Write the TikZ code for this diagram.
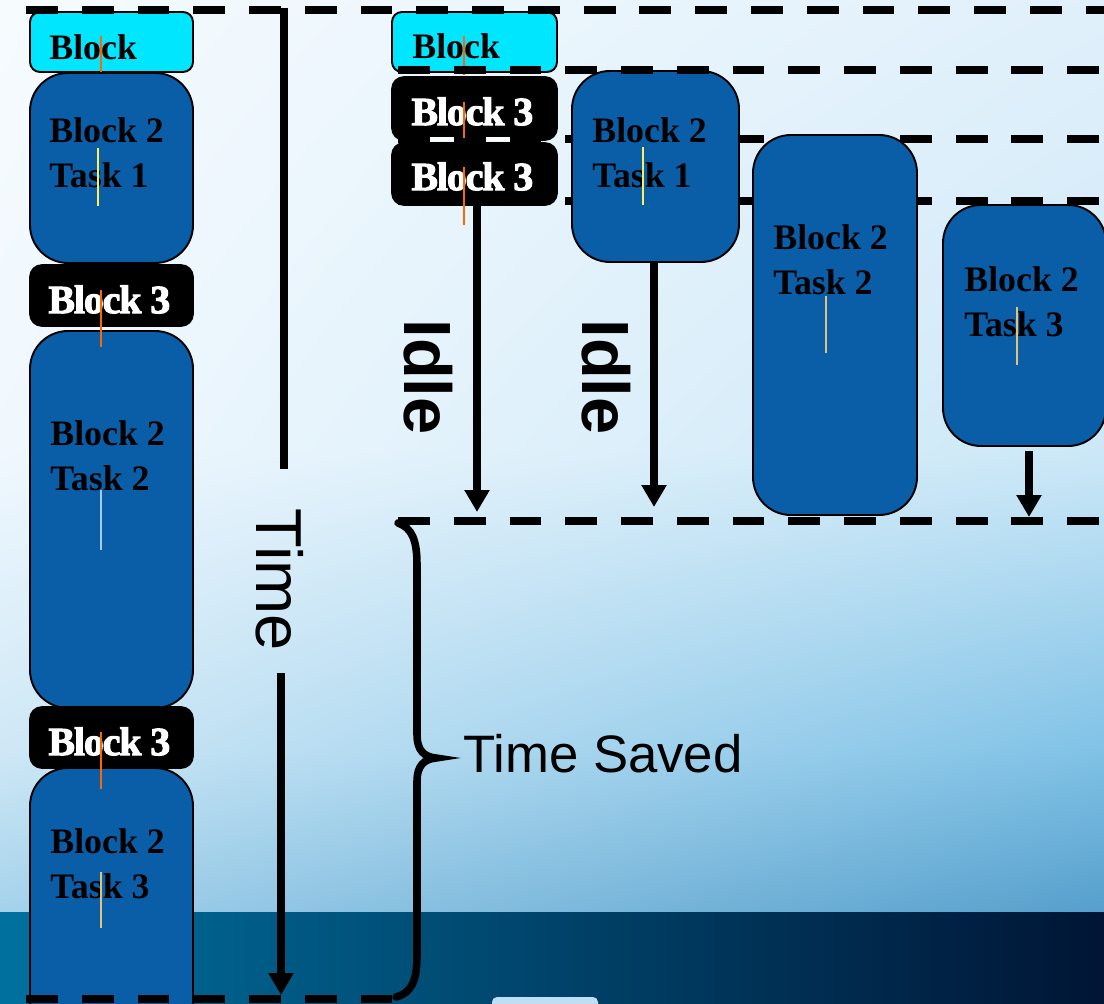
\documentclass[tikz,border=0pt]{standalone}
\usepackage{fontspec}
\setmainfont{Liberation Serif}
\newfontfamily\arialfont{Liberation Sans}
\newfontfamily\heavyfont{Liberation Serif Bold}[FakeBold=2.5, LetterSpace=-3]
\usetikzlibrary{arrows.meta,calc,shadings}
\definecolor{bgA}{HTML}{F6FBFE}
\definecolor{bgB}{HTML}{E0F0FB}
\definecolor{bgC}{HTML}{F0F8FE}
\definecolor{bgD}{HTML}{CCE8F7}
\definecolor{bgE}{HTML}{CFE8F6}
\definecolor{bgF}{HTML}{80C2E6}
\definecolor{bgG}{HTML}{A4D2EB}
\definecolor{bgH}{HTML}{559FCC}
\definecolor{bandA}{HTML}{00719F}
\definecolor{bandB}{HTML}{003A62}
\definecolor{bandC}{HTML}{001535}
\definecolor{smallbox}{HTML}{BFDDF5}
\definecolor{boxblue}{HTML}{0A5EA8}
\definecolor{boxcyan}{HTML}{00E6FF}
\definecolor{cursorA}{HTML}{FF6600}
\definecolor{cursorB}{HTML}{FFEE55}
\definecolor{cursorC}{HTML}{E0C478}
\definecolor{cursorD}{HTML}{A8CCF0}
\tikzset{
  boxsize/.style 2 args={minimum width=#1*0.02cm, minimum height=#2*0.02cm},
  bluebox/.style={draw=black, line width=1.1pt, fill=boxblue, rounded corners=0.76cm, inner sep=0pt},
  cyanbox/.style={draw=black, line width=1.1pt, fill=boxcyan, rounded corners=0.2cm, inner sep=0pt},
  blackbox/.style={draw=black, line width=1pt, fill=black, rounded corners=0.24cm, inner sep=0pt},
  btxt/.style={anchor=north west, inner sep=0pt, align=left, text=black,
    font=\fontsize{20.4}{25.5}\selectfont\bfseries},
  wtxt/.style={anchor=north west, inner sep=0pt, text=white,
    font=\heavyfont\fontsize{22.8}{26}\selectfont},
  dashline/.style={line width=4.5pt, dash pattern=on 18.14pt off 13.6pt},
  solidline/.style={line width=4.3pt},
  arrowline/.style={line width=4.5pt, -{Triangle[length=12.5pt, width=13.6pt]}},
  cursor/.style={line width=0.8pt},
  idletxt/.style={rotate=-90, inner sep=0pt, font=\arialfont\bfseries\fontsize{38}{40}\selectfont},
  timetxt/.style={rotate=-90, inner sep=0pt, font=\arialfont\fontsize{37}{40}\selectfont},
}
\begin{document}
\begin{tikzpicture}[x=0.02cm, y=-0.02cm]
\useasboundingbox (0,0) rectangle (1104,1003);
\clip (0,0) rectangle (1104,1003);
% background
\shade[upper left=bgA, upper right=bgB, lower left=bgC, lower right=bgD] (0,0) rectangle (1104,451);
\shade[upper left=bgC, upper right=bgD, lower left=bgE, lower right=bgF] (0,450) rectangle (1104,751);
\shade[upper left=bgE, upper right=bgF, lower left=bgG, lower right=bgH] (0,750) rectangle (1104,913);
\shade[left color=bandA, middle color=bandB, right color=bandC] (0,912) rectangle (1104,1003);
\fill[smallbox, rounded corners=0.1cm] (492,997) rectangle (598,1020);

% dashed lines behind boxes
\draw[dashline] (398,139) -- (1104,139);
\draw[dashline] (398,201) -- (1104,201);

% left column
\node[cyanbox, boxsize={163}{60}] (LB) at (111.5,42) {};
\node[bluebox, boxsize={163}{190}] (L1) at (111.5,168) {};
\node[blackbox, boxsize={163}{61}] (L3a) at (111.5,295.5) {};
\node[bluebox, boxsize={163}{377}] (L2) at (111.5,519.5) {};
\node[blackbox, boxsize={163}{61}] (L3b) at (111.5,737.5) {};
\node[bluebox, boxsize={163}{272}] (LT3) at (111.5,904) {};

\node[btxt] (LBt) at (49,34) {Block};
\node[btxt] (L1t) at (49,117) {Block 2\\Task 1};
\node[wtxt] (L3at) at (48,285) {Block 3};
\node[btxt] (L2t) at (50,420) {Block 2\\Task 2};
\node[wtxt] (L3bt) at (48,727) {Block 3};
\node[btxt] (LT3t) at (50,828) {Block 2\\Task 3};

% right column
\node[cyanbox, boxsize={165}{60}] (RB) at (474.5,42) {};
\node[blackbox, boxsize={165}{63}] (R3a) at (474.5,108.5) {};
\node[blackbox, boxsize={165}{62}] (R3b) at (474.5,174) {};
\node[bluebox, boxsize={167}{191}] (RT1) at (655.5,166.5) {};
\node[bluebox, boxsize={164}{380}] (RT2) at (835,325) {};
\node[bluebox, boxsize={163}{241}] (RT3) at (1024.5,325.5) {};

\node[btxt] (RBt) at (412,33) {Block};
\node[wtxt] (R3at) at (411,97) {Block 3};
\node[wtxt] (R3bt) at (411,162) {Block 3};
\node[btxt] (RT1t) at (592,117) {Block 2\\Task 1};
\node[btxt] (RT2t) at (773,224) {Block 2\\Task 2};
\node[btxt] (RT3t) at (964,266) {Block 2\\Task 3};

% thin cursor marks
\draw[cursor, cursorA] (101,36) -- (101,72);
\draw[cursor, cursorB] (98,148) -- (98,206);
\draw[cursor, cursorA] (101,290) -- (101,347);
\draw[cursor, cursorD] (101,490) -- (101,550);
\draw[cursor, cursorA] (101,732) -- (101,789);
\draw[cursor, cursorC] (101,872) -- (101,928);
\draw[cursor, cursorA] (464,36) -- (464,75);
\draw[cursor, cursorA] (464,102) -- (464,138);
\draw[cursor, cursorA] (464,167) -- (464,225);
\draw[cursor, cursorB] (643,147) -- (643,205);
\draw[cursor, cursorC] (826,296) -- (826,353);
\draw[cursor, cursorC] (1017,307) -- (1017,365);

% dashed lines in front
\draw[dashline] (26,10) -- (1104,10);
\draw[dashline] (398,70) -- (1104,70);
\draw[dashline] (398,521) -- (1104,521);
\draw[dashline] (26,999) -- (400,999);
\draw[line width=2.2pt, white, dash pattern=on 13.6pt off 18.14pt] (430,139) -- (510,139);

% time axis
\node[timetxt] (time) at (280,580) {Time};
\coordinate (ttop) at (284,8);
\coordinate (tmidA) at (284,469);
\coordinate (tmidB) at (281,673);
\coordinate (tbot) at (281,995);
\draw[solidline] (ttop) -- (tmidA);
\draw[arrowline] (tmidB) -- (tbot);

% idle arrows
\coordinate (i1e) at (477,512);
\coordinate (i2e) at (654,507);
\coordinate (a3e) at (1029,517);
\draw[arrowline] (R3b.south -| i1e) -- (i1e);
\draw[arrowline] (RT1.south -| i2e) -- (i2e);
\draw[arrowline] ($(RT3.south -| a3e)+(0,4)$) -- (a3e);
\node[idletxt] (idle1) at (428,377) {Idle};
\node[idletxt] (idle2) at (606,377) {Idle};

% brace
\draw[line width=4.3pt, line cap=round] (398,523) .. controls (412,528) and (417,540) .. (417,565)
  -- (417,735) .. controls (417,750) and (424,757) .. (436,758)
  .. controls (424,759) and (417,766) .. (417,781)
  -- (417,955) .. controls (417,982) and (411,993) .. (396,997);
\node[anchor=base west, inner sep=0pt, font=\arialfont\fontsize{30}{34}\selectfont] (saved) at (463,772) {Time Saved};
\end{tikzpicture}
\end{document}
